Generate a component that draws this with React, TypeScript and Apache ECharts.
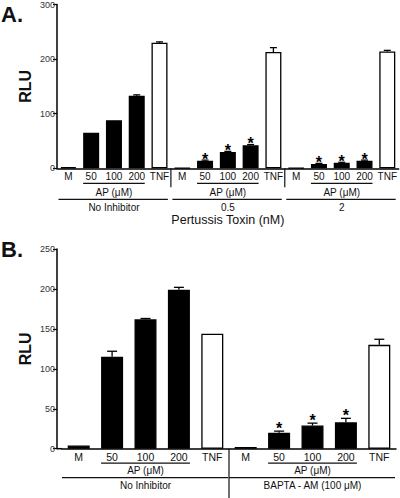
import React, { useEffect, useRef } from 'react';
import * as echarts from 'echarts';

// ---------- data ----------
const categoriesA = ['M', '50', '100', '200', 'TNF', 'M', '50', '100', '200', 'TNF', 'M', '50', '100', '200', 'TNF'];
const valuesA = [2, 65, 88, 133, 230, 1, 14, 30, 42, 213, 0.5, 8, 10, 14, 214];
const errorsA = [0, 0, 0, 1.5, 1.5, 0, 1, 1, 1.5, 8, 0, 1, 1, 1, 2];
const starsA = [0, 0, 0, 0, 0, 0, 1, 1, 1, 0, 0, 1, 1, 1, 0];
const groupLabelsA = ['No Inhibitor', '0.5', '2'];
const axisTitleA = 'Pertussis Toxin (nM)';
const yMaxA = 300;
const yStepA = 100;

const categoriesB = ['M', '50', '100', '200', 'TNF', 'M', '50', '100', '200', 'TNF'];
const valuesB = [4, 115, 162, 199, 144, 2, 20, 29, 33, 130];
const errorsB = [0, 7, 1, 3, 0, 0, 2, 3, 5, 7];
const starsB = [0, 0, 0, 0, 0, 0, 1, 1, 1, 0];
const groupLabelsB = ['No Inhibitor', 'BAPTA - AM (100 μM)'];
const yMaxB = 250;
const yStepB = 50;

const subgroupLabel = 'AP (μM)';
const yName = 'RLU';
const panelLabels = ['A.', 'B.'];

// ---------- styles ----------
const FONT = '"Liberation Sans", Arial, Helvetica, sans-serif';
const INK = '#111';

function barData(cats: string[], vals: number[]) {
  return vals.map((v, i) => ({
    value: v,
    itemStyle: {
      color: cats[i] === 'TNF' ? '#fff' : '#000',
      borderColor: '#000',
      borderWidth: 1.3,
    },
  }));
}

function errorRenderer(capW: number, starGap: number, starSize: number) {
  return (params: any, api: any) => {
    const i = api.value(0);
    const v = api.value(1);
    const e = api.value(2);
    const s = api.value(3);
    const bot = api.coord([i, v]);
    const top = api.coord([i, v + e]);
    const children: any[] = [];
    const ls = { stroke: '#000', lineWidth: 1.3 };
    if (e > 0) {
      children.push({ type: 'line', shape: { x1: bot[0], y1: bot[1], x2: top[0], y2: top[1] }, style: ls });
      children.push({ type: 'line', shape: { x1: top[0] - capW / 2, y1: top[1], x2: top[0] + capW / 2, y2: top[1] }, style: ls });
    }
    if (s) {
      children.push({
        type: 'text',
        x: top[0],
        y: top[1] - starGap,
        style: {
          text: '*',
          fill: '#000',
          font: `bold ${starSize}px ${FONT}`,
          align: 'center',
          textAlign: 'center',
          verticalAlign: 'middle',
          textVerticalAlign: 'middle',
        },
      });
    }
    return { type: 'group', children };
  };
}

interface AnnotLayout {
  barW: number;
  apY: number;
  apTextY: number;
  grpY: number;
  grpTextY: number;
  divLen: number;
  grpPadL: number;
  grpPadR: number;
  fontSize: number;
  fillGap: number;
  titleY?: number;
}

function annotRenderer(groupLabels: string[], L: AnnotLayout, title?: string) {
  return (params: any, api: any) => {
    const gi = params.dataIndex;
    const first = gi * 5;
    const last = first + 4;
    const band = api.size([1, 0])[0];
    const p0 = api.coord([first, 0]);
    const p1 = api.coord([first + 1, 0]);
    const p2 = api.coord([first + 2, 0]);
    const p3 = api.coord([first + 3, 0]);
    const p4 = api.coord([last, 0]);
    const base = p0[1];
    const ls = { stroke: INK, lineWidth: 1.2 };
    const ts = (text: string, size: number) => ({
      text,
      fill: INK,
      font: `${size}px ${FONT}`,
      align: 'center',
      textAlign: 'center',
      verticalAlign: 'middle',
      textVerticalAlign: 'middle',
    });
    const children: any[] = [];
    children.push({
      type: 'line',
      shape: { x1: p1[0] - L.barW / 2, y1: base + L.apY, x2: p3[0] + L.barW / 2, y2: base + L.apY },
      style: ls,
    });
    children.push({ type: 'text', x: p2[0], y: base + L.apTextY, style: ts(subgroupLabel, L.fontSize) });
    children.push({
      type: 'line',
      shape: { x1: p0[0] - band / 2 + L.grpPadL, y1: base + L.grpY, x2: p4[0] + band / 2 - L.grpPadR, y2: base + L.grpY },
      style: ls,
    });
    children.push({ type: 'text', x: p2[0], y: base + L.grpTextY, style: ts(groupLabels[gi], L.fontSize) });
    if (gi < groupLabels.length - 1) {
      const dx = p4[0] + band / 2;
      children.push({ type: 'line', shape: { x1: dx, y1: base, x2: dx, y2: base + L.divLen }, style: ls });
    }
    if (gi === 0 && L.fillGap > 0) {
      const gx = p0[0] - band / 2;
      children.push({ type: 'line', shape: { x1: gx - L.fillGap, y1: base, x2: gx, y2: base }, style: { stroke: '#000', lineWidth: 1.5 } });
    }
    if (title && gi === Math.floor(groupLabels.length / 2) && L.titleY) {
      children.push({ type: 'text', x: p2[0], y: base + L.titleY, style: ts(title, 12.5) });
    }
    return { type: 'group', children };
  };
}

function yAxisCfg(grid: number, max: number, step: number, offset: number) {
  return {
    type: 'value',
    gridIndex: grid,
    min: 0,
    max,
    interval: step,
    offset,
    axisLine: { show: true, lineStyle: { color: '#000', width: 1.5 } },
    axisTick: { show: true, length: 4, lineStyle: { color: '#000', width: 1.2 } },
    axisLabel: { fontSize: 9, color: '#333', margin: 2, fontFamily: FONT },
    splitLine: { show: false },
    name: yName,
    nameLocation: 'middle',
    nameGap: 24,
    nameMoveOverlap: false,
    nameRotate: 90,
    nameTextStyle: { fontSize: 16, fontWeight: 'bold', color: INK, fontFamily: FONT },
  };
}

function xAxisCfg(grid: number, cats: string[], fontSize: number, margin: number) {
  return {
    type: 'category',
    gridIndex: grid,
    data: cats,
    axisLine: { show: true, lineStyle: { color: '#000', width: 1.5 } },
    axisTick: { show: false },
    axisLabel: { interval: 0, fontSize, color: INK, margin, fontFamily: FONT },
    splitLine: { show: false },
  };
}

export default function App() {
  const ref = useRef<HTMLDivElement>(null);
  useEffect(() => {
    if (!ref.current) return;
    const chart = echarts.init(ref.current, null, { renderer: 'svg' });
    const option: any = {
      animation: false,
      backgroundColor: '#fff',
      textStyle: { fontFamily: FONT },
      title: [
        { text: panelLabels[0], left: 1, top: 3, padding: 0, textStyle: { fontSize: 22, fontWeight: 'bold', color: INK, fontFamily: FONT } },
        { text: panelLabels[1], left: 1, top: 238, padding: 0, textStyle: { fontSize: 22, fontWeight: 'bold', color: INK, fontFamily: FONT } },
      ],
      grid: [
        { left: 57, top: 4.3, width: 342, height: 164 },
        { left: 62, top: 249, width: 334, height: 199.7 },
      ],
      xAxis: [xAxisCfg(0, categoriesA, 10, 3), xAxisCfg(1, categoriesB, 10.5, 3)],
      yAxis: [yAxisCfg(0, yMaxA, yStepA, 0), yAxisCfg(1, yMaxB, yStepB, 5)],
      series: [
        {
          type: 'bar',
          xAxisIndex: 0,
          yAxisIndex: 0,
          barWidth: 16,
          data: barData(categoriesA, valuesA),
        },
        {
          type: 'custom',
          xAxisIndex: 0,
          yAxisIndex: 0,
          clip: false,
          z: 3,
          encode: { x: 0, y: 1 },
          data: valuesA.map((v, i) => [i, v, errorsA[i], starsA[i]]),
          renderItem: errorRenderer(7, 1, 16),
        },
        {
          type: 'custom',
          xAxisIndex: 0,
          yAxisIndex: 0,
          clip: false,
          encode: { x: 0, y: 1 },
          data: groupLabelsA.map((_, g) => [g * 5, 0]),
          renderItem: annotRenderer(
            groupLabelsA,
            { barW: 16, apY: 15, apTextY: 24, grpY: 31, grpTextY: 39, divLen: 19, grpPadL: 1.5, grpPadR: 3, fontSize: 10, fillGap: 0, titleY: 52 },
            axisTitleA
          ),
        },
        {
          type: 'bar',
          xAxisIndex: 1,
          yAxisIndex: 1,
          barWidth: 22,
          data: barData(categoriesB, valuesB),
        },
        {
          type: 'custom',
          xAxisIndex: 1,
          yAxisIndex: 1,
          clip: false,
          z: 3,
          encode: { x: 0, y: 1 },
          data: valuesB.map((v, i) => [i, v, errorsB[i], starsB[i]]),
          renderItem: errorRenderer(10, 2.5, 16),
        },
        {
          type: 'custom',
          xAxisIndex: 1,
          yAxisIndex: 1,
          clip: false,
          encode: { x: 0, y: 1 },
          data: groupLabelsB.map((_, g) => [g * 5, 0]),
          renderItem: annotRenderer(groupLabelsB, {
            barW: 22,
            apY: 14.5,
            apTextY: 21.5,
            grpY: 29,
            grpTextY: 36.5,
            divLen: 50,
            grpPadL: 0,
            grpPadR: 1,
            fontSize: 10,
            fillGap: 5,
          }),
        },
      ],
    };
    chart.setOption(option);
    return () => chart.dispose();
  }, []);
  return <div ref={ref} style={{ position: 'absolute', left: 0, top: 0, width: 400, height: 498 }} />;
}
